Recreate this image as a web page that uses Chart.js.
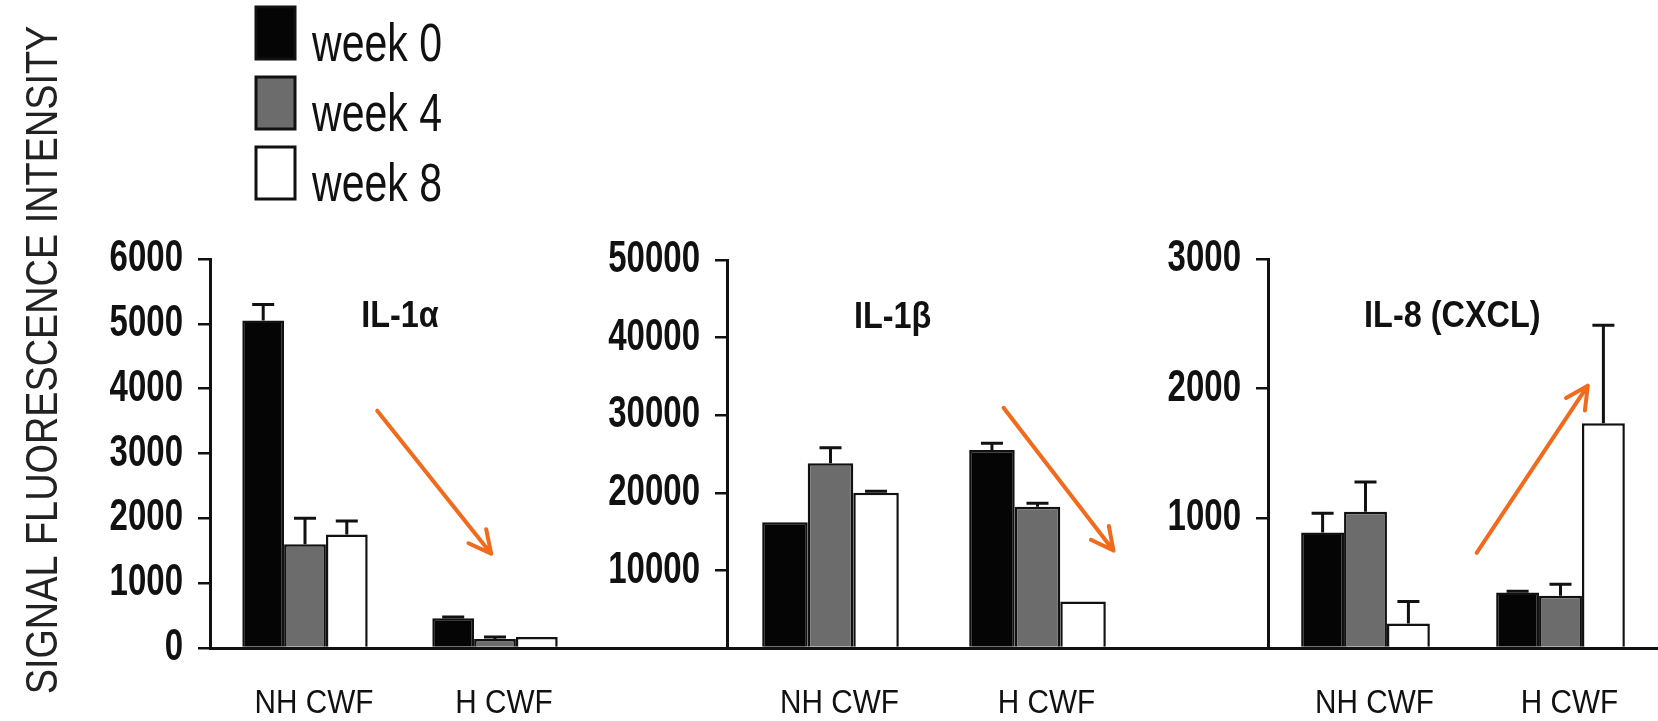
<!DOCTYPE html>
<html>
<head>
<meta charset="utf-8">
<script src="https://cdn.jsdelivr.net/npm/chart.js@4.4.1/dist/chart.umd.min.js"></script>
<style>
  html, body { margin: 0; padding: 0; background: #ffffff; }
  #wrap { position: relative; width: 1658px; height: 721px; overflow: hidden; background: #fff; }
  .panel { position: absolute; top: 0; height: 721px; }
</style>
</head>
<body>
<div id="wrap">
  <div class="panel" id="p1" style="left:0px;width:780px;"><canvas id="c1"></canvas></div>
  <div class="panel" id="p2" style="left:560px;width:788px;"><canvas id="c2"></canvas></div>
  <div class="panel" id="p3" style="left:1120px;width:538px;"><canvas id="c3"></canvas></div>
</div>
<script>
// ---------------- data ----------------
const categories = ['NH CWF', 'H CWF'];
const seriesNames = ['week 0', 'week 4', 'week 8'];
const seriesColors = ['#050505', '#6c6c6c', '#ffffff'];
const yAxisTitle = 'SIGNAL FLUORESCENCE INTENSITY';
const panelTitles = ['IL-1\u03B1', 'IL-1\u03B2', 'IL-8 (CXCL)'];

// IL-1alpha
const il1aWeek0 = [5050, 460];
const il1aWeek4 = [1600, 140];
const il1aWeek8 = [1750, 170];
const il1aErr0 = [250, 20];
const il1aErr4 = [400, 30];
const il1aErr8 = [210, 0];
const il1aTicks = [0, 1000, 2000, 3000, 4000, 5000, 6000];
const il1aArrow = [0.38, 3660, 0.98, 1455];

// IL-1beta
const il1bWeek0 = [16200, 25500];
const il1bWeek4 = [23800, 18200];
const il1bWeek8 = [20000, 6000];
const il1bErr0 = [0, 900];
const il1bErr4 = [2000, 450];
const il1bErr8 = [200, 0];
const il1bTicks = [0, 10000, 20000, 30000, 40000, 50000];
const il1bArrow = [0.836, 30960, 1.367, 12560];

// IL-8 (CXCL)
const il8Week0 = [890, 428];
const il8Week4 = [1050, 402];
const il8Week8 = [188, 1734];
const il8Err0 = [150, 10];
const il8Err4 = [230, 90];
const il8Err8 = [170, 756];
const il8Ticks = [0, 1000, 2000, 3000];
const il8Arrow = [0.57, 734, 1.14, 2023];

// ---------------- styling ----------------
// the original uses condensed type; a tag in the family list tells the canvas how much to narrow it
const fam = k => "'Liberation Sans', Arial, xcond" + k;
const INK = '#111111';
const ORANGE = '#f26a1c';

function condenseContext(canvas) {
  const ctx = canvas.getContext('2d');
  const fill = ctx.fillText.bind(ctx);
  ctx.fillText = function (text, x, y, maxWidth) {
    const m = /xcond(\d+)/.exec(ctx.font);
    if (!m) return maxWidth === undefined ? fill(text, x, y) : fill(text, x, y, maxWidth);
    const k = +m[1] / 100;
    ctx.save();
    ctx.translate(x, y);
    ctx.scale(k, 1);
    if (maxWidth === undefined) fill(text, 0, 0); else fill(text, 0, 0, maxWidth / k);
    ctx.restore();
  };
}

const annotate = {
  id: 'annotate',
  afterDatasetsDraw(chart, args, opts) {
    const ctx = chart.ctx;
    const xs = chart.scales.x, ys = chart.scales.y;
    // error bars (upper only)
    chart.data.datasets.forEach((ds, i) => {
      const meta = chart.getDatasetMeta(i);
      meta.data.forEach((bar, j) => {
        const v = ds.data[j], e = ds.errors ? ds.errors[j] : 0;
        if (v == null || !e) return;
        const yTop = ys.getPixelForValue(v + e);
        ctx.save();
        ctx.strokeStyle = INK;
        ctx.lineWidth = 3;
        ctx.beginPath();
        ctx.moveTo(bar.x, bar.y);
        ctx.lineTo(bar.x, yTop);
        ctx.moveTo(bar.x - 11, yTop);
        ctx.lineTo(bar.x + 11, yTop);
        ctx.stroke();
        ctx.restore();
      });
    });
    // trend arrow
    if (opts.arrow) {
      const a = opts.arrow;
      const x0 = xs.getPixelForValue(a[0]), y0 = ys.getPixelForValue(a[1]);
      const x1 = xs.getPixelForValue(a[2]), y1 = ys.getPixelForValue(a[3]);
      const ang = Math.atan2(y1 - y0, x1 - x0);
      const head = 25, spread = 0.47;
      ctx.save();
      ctx.strokeStyle = ORANGE;
      ctx.lineWidth = 4;
      ctx.lineCap = 'round';
      ctx.lineJoin = 'round';
      ctx.beginPath();
      ctx.moveTo(x0, y0); ctx.lineTo(x1, y1);
      ctx.moveTo(x1 - head * Math.cos(ang - spread), y1 - head * Math.sin(ang - spread));
      ctx.lineTo(x1, y1);
      ctx.lineTo(x1 - head * Math.cos(ang + spread), y1 - head * Math.sin(ang + spread));
      ctx.stroke();
      ctx.restore();
    }
    // panel title
    if (opts.title) {
      ctx.save();
      ctx.fillStyle = INK;
      ctx.font = "bold 36px " + fam(90);
      ctx.textAlign = 'center';
      ctx.textBaseline = 'middle';
      ctx.fillText(opts.title, xs.getPixelForValue(opts.titleAt), chart.chartArea.top + opts.titleDy);
      ctx.restore();
    }
  },
  afterDraw(chart, args, opts) {
    const ctx = chart.ctx;
    if (opts.yTitle) {
      ctx.save();
      ctx.fillStyle = '#222';
      ctx.font = "44px " + fam(86);
      ctx.textAlign = 'center';
      ctx.textBaseline = 'middle';
      ctx.translate(45, 360);
      ctx.rotate(-Math.PI / 2);
      ctx.fillText(opts.yTitle, 0, 0);
      ctx.restore();
    }
    if (opts.legend) {
      ctx.save();
      chart.data.datasets.forEach((ds, i) => {
        const top = 7 + i * 70;
        ctx.fillStyle = ds.backgroundColor;
        ctx.fillRect(256, top, 39, 52);
        ctx.strokeStyle = INK;
        ctx.lineWidth = 3;
        ctx.strokeRect(256, top, 39, 52);
        ctx.fillStyle = INK;
        ctx.font = "54px " + fam(76);
        ctx.textAlign = 'left';
        ctx.textBaseline = 'middle';
        ctx.fillText(ds.label, 312, top + 39);
      });
      ctx.restore();
    }
  }
};

function makeChart(canvasId, labels, vals, errs, ticks, axisWidth, topPad, arrow, title, titleAt, extra) {
  const canvas = document.getElementById(canvasId);
  condenseContext(canvas);
  const datasets = vals.map((v, i) => ({
    label: seriesNames[i],
    data: v,
    errors: errs[i],
    backgroundColor: seriesColors[i],
    borderColor: INK,
    borderWidth: 2.5,
    categoryPercentage: 0.66,
    barPercentage: 1.0
  }));
  const showZero = extra.showZero;
  return new Chart(canvas, {
    type: 'bar',
    data: { labels: labels, datasets: datasets },
    options: {
      responsive: true,
      maintainAspectRatio: false,
      animation: false,
      layout: { padding: { top: topPad, left: 0, right: 0, bottom: 0 } },
      plugins: {
        legend: { display: false },
        tooltip: { enabled: false },
        annotate: Object.assign({ arrow: arrow, title: title, titleAt: titleAt, titleDy: 58 }, extra)
      },
      scales: {
        x: {
          grid: { display: false, drawTicks: false },
          border: { display: true, color: INK, width: 3 },
          ticks: {
            color: INK, padding: 36, labelOffset: 9, maxRotation: 0, autoSkip: false,
            font: { family: fam(90), size: 33 }
          },
          afterFit: s => { s.height = 73; }
        },
        y: {
          min: ticks[0],
          max: ticks[ticks.length - 1],
          afterBuildTicks: s => { s.ticks = ticks.map(v => ({ value: v })); },
          grid: { display: true, drawOnChartArea: false, drawTicks: true, tickLength: 12, color: INK, lineWidth: 2.5 },
          border: { display: true, color: INK, width: 3 },
          ticks: {
            color: INK, padding: 15,
            font: { family: fam(75), size: 44, weight: 'bold' },
            callback: v => (v === 0 && !showZero) ? '' : String(v)
          },
          afterFit: s => { s.width = axisWidth; }
        }
      }
    },
    plugins: [annotate]
  });
}

makeChart('c1', [...categories, ''],
  [il1aWeek0, il1aWeek4, il1aWeek8], [il1aErr0, il1aErr4, il1aErr8],
  il1aTicks, 210, 259, il1aArrow, panelTitles[0], 0.5,
  { showZero: true, yTitle: yAxisTitle, legend: true });

makeChart('c2', [...categories, ''],
  [il1bWeek0, il1bWeek4, il1bWeek8], [il1bErr0, il1bErr4, il1bErr8],
  il1bTicks, 167, 260, il1bArrow, panelTitles[1], 0.30,
  { showZero: false });

makeChart('c3', categories,
  [il8Week0, il8Week4, il8Week8], [il8Err0, il8Err4, il8Err8],
  il8Ticks, 148, 259, il8Arrow, panelTitles[2], 0.445,
  { showZero: false });
</script>
</body>
</html>
